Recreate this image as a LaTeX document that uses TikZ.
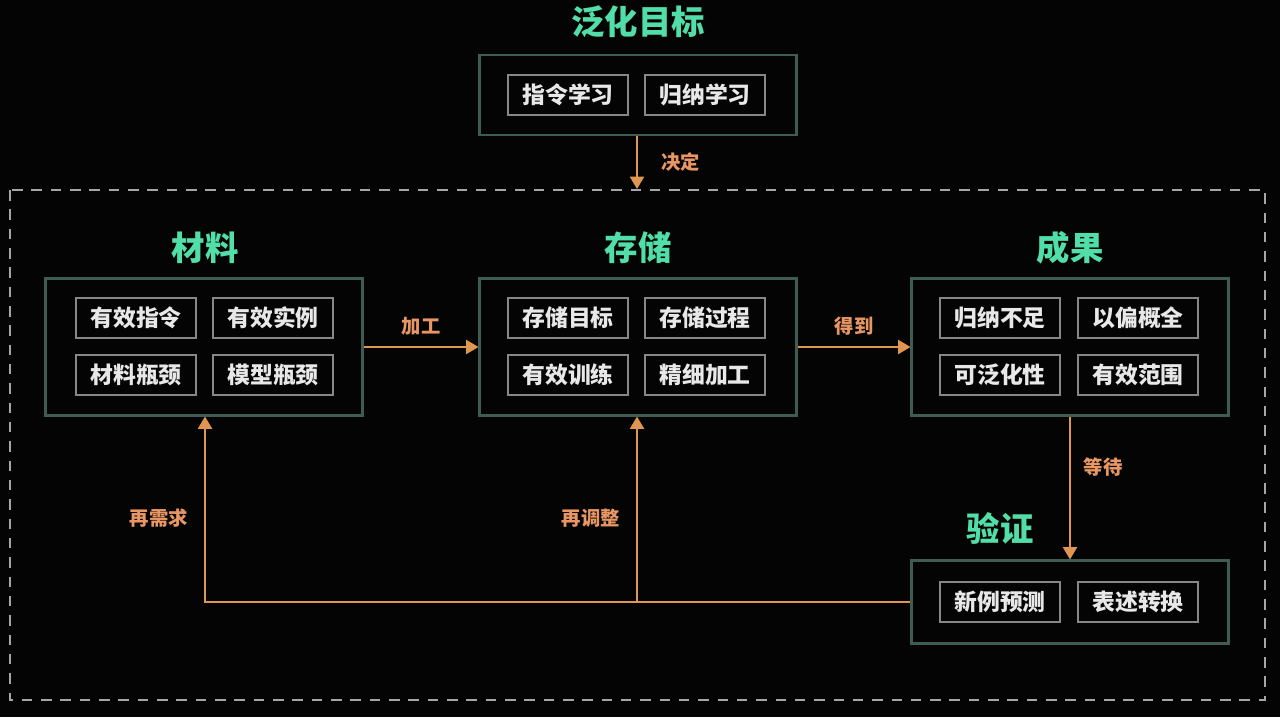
\documentclass[tikz,border=0pt]{standalone}
\usepackage{fontspec}
\newfontfamily\cjk{Noto Sans CJK SC}
\usetikzlibrary{arrows.meta, positioning}
\definecolor{bgblack}{RGB}{4,4,4}
\definecolor{boxline}{RGB}{62,92,82}
\definecolor{itemline}{RGB}{135,135,135}
\definecolor{titlegreen}{RGB}{82,222,168}
\definecolor{flow}{RGB}{222,150,80}
\definecolor{flowtext}{RGB}{232,150,100}
\definecolor{itemtext}{RGB}{232,232,232}

\begin{document}
\begin{tikzpicture}[
  x=0.02cm, y=-0.02cm, font=\cjk,
  group/.style={draw=boxline, line width=1.2pt, minimum width=6.34cm, minimum height=2.74cm},
  item/.style={draw=itemline, line width=0.9pt, minimum width=2.4cm, minimum height=0.8cm,
               text=itemtext, font=\cjk\bfseries\fontsize{13}{15}\selectfont, inner sep=0pt},
  head/.style={text=titlegreen, font=\cjk\bfseries\fontsize{19}{22}\selectfont},
  flw/.style={-{Triangle[width=8pt,length=7pt]}, flow, line width=1pt},
  lbl/.style={text=flowtext, font=\cjk\bfseries\fontsize{11}{13}\selectfont}
]
  \fill[bgblack] (0,0) rectangle (1280,717);
  \useasboundingbox (0,0) rectangle (1280,717);

  %--- outer dashed frame ---
  \draw[gray!70, line width=0.8pt, dash pattern=on 6pt off 5pt] (10,190) rectangle (1265,700);

  %--- goal ---
  \node[head] (goalT) at (638,22) {泛化目标};
  \node[group, minimum height=1.6cm] (goal) at (638,95) {};
  \node[item] (g1) at (568,95) {指令学习};
  \node[item] (g2) at (705,95) {归纳学习};

  %--- material ---
  \node[head] (matT) at (205,248) {材料};
  \node[group] (mat) at (204,347) {};
  \node[item] (m1) at (136,318) {有效指令};
  \node[item] (m2) at (273,318) {有效实例};
  \node[item] (m3) at (136,375) {材料瓶颈};
  \node[item] (m4) at (273,375) {模型瓶颈};

  %--- storage ---
  \node[head] (stoT) at (638,248) {存储};
  \node[group] (sto) at (638,347) {};
  \node[item] (s1) at (568,318) {存储目标};
  \node[item] (s2) at (705,318) {存储过程};
  \node[item] (s3) at (568,375) {有效训练};
  \node[item] (s4) at (705,375) {精细加工};

  %--- result ---
  \node[head] (resT) at (1070,248) {成果};
  \node[group] (res) at (1070,347) {};
  \node[item] (r1) at (1000,318) {归纳不足};
  \node[item] (r2) at (1138,318) {以偏概全};
  \node[item] (r3) at (1000,375) {可泛化性};
  \node[item] (r4) at (1138,375) {有效范围};

  %--- verification ---
  \node[head] (verT) at (1000,528) {验证};
  \node[group, minimum height=1.66cm] (ver) at (1070,602) {};
  \node[item] (v1) at (1000,602) {新例预测};
  \node[item] (v2) at (1138,602) {表述转换};

  %--- connectors ---
  \coordinate (frameTop) at (637,189);
  \draw[flw] (goal.south -| frameTop) -- (frameTop)
    node[lbl, midway, right=10pt] {决定};
  \draw[flw] (mat) -- (sto) node[lbl, midway, above=3pt] {加工};
  \draw[flw] (sto) -- (res) node[lbl, midway, above=3pt] {得到};
  \draw[flw] (res) -- (ver) node[lbl, pos=0.35, right=4pt] {等待};

  %--- feedback ---
  \coordinate (backL) at (205,602);
  \coordinate (backM) at (637,602);
  \draw[flw] (ver.west) -- (backL) -- (mat.south -| backL)
    node[lbl, pos=0.45, left=6pt] {再需求};
  \draw[flw] (backM) -- (sto.south -| backM)
    node[lbl, pos=0.45, left=6pt] {再调整};
\end{tikzpicture}
\end{document}
